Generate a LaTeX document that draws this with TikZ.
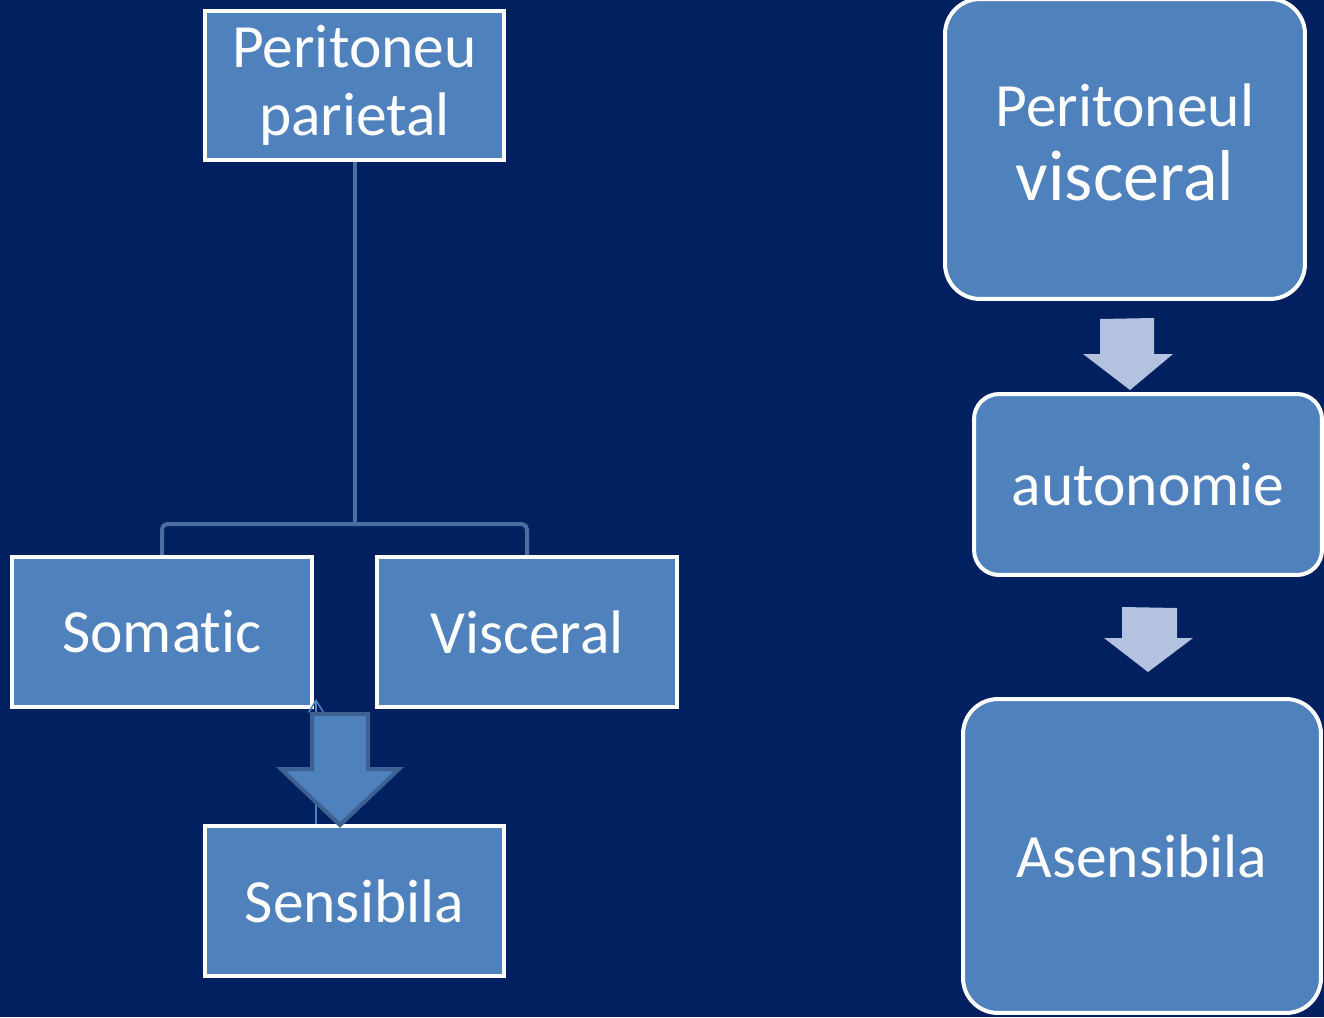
\documentclass[tikz,border=0pt]{standalone}
\usepackage{fontspec}
\setmainfont{Carlito}[Ligatures=NoCommon]
\usepackage{tikz}
\usetikzlibrary{arrows.meta}

\definecolor{navy}{HTML}{002060}
\definecolor{boxblue}{HTML}{4F81BD}
\definecolor{linkblue}{HTML}{4A70A0}
\definecolor{arrowedge}{HTML}{3D6291}
\definecolor{paleblue}{HTML}{B3C2DE}

\begin{document}
\begin{tikzpicture}[x=0.02cm,y=-0.02cm,>=Stealth,
    box/.style={draw=white,line width=0.08cm,fill=boxblue,text=white,align=center,
      inner sep=0pt,minimum width=6cm,minimum height=3cm,font=\fontsize{35}{39}\selectfont},
    rbox/.style={box,rounded corners=0.7cm},
    link/.style={draw=linkblue,line width=0.08cm,rounded corners=3},
    bigarrow/.style={fill=boxblue,draw=arrowedge,line width=0.08cm,line join=miter},
    palearrow/.style={fill=paleblue,draw=none}]

    \fill[navy] (0,0) rectangle (1324,1017);
    \useasboundingbox (0,0) rectangle (1324,1017);

    % left tree
    \node[box] (par) at (354.5,85.5) {Peritoneu\\parietal};
    \node[box] (som) at (162,632) {Somatic};
    \node[box] (vis) at (527,632) {Visceral};
    \node[box] (sens) at (354.5,901) {Sensibila};

    \coordinate (split) at (354.5,524);
    \draw[link] (par.south) -- (split);
    \draw[link] (som.north) |- (split) -| (vis.north);

    % thin arrow under the block arrow
    \coordinate (up) at (316,699);
    \draw[-{Straight Barb[length=0.24cm,width=0.3cm]},boxblue,line width=0.03cm]
      (sens.north -| up) -- (up);

    \draw[bigarrow] (312,714) -- (368,714) -- (368,769) -- (399,769) -- (340,825)
      -- (281,769) -- (312,769) -- cycle;

    % right column
    \node[rbox,minimum width=7.2cm,minimum height=6cm] (pv) at (1125,149)
      {Peritoneul\\[3pt]{\fontsize{41}{45}\selectfont visceral\rule[-0.26cm]{0pt}{0pt}}};
    \node[rbox,rounded corners=0.5cm,minimum width=6.96cm,minimum height=3.62cm] (aut)
      at (1148,484.5) {autonomie};
    \node[rbox,minimum width=7.16cm,minimum height=6.28cm] (asen) at (1142,856) {Asensibila};

    \fill[palearrow] (1100,319) -- (1154,318) -- (1154,354) -- (1173,354) -- (1130,390)
      -- (1083,354) -- (1100,354) -- cycle;
    \fill[palearrow] (1122,607) -- (1177,608) -- (1177,638) -- (1193,638) -- (1148,672)
      -- (1104,638) -- (1122,638) -- cycle;

\end{tikzpicture}
\end{document}
